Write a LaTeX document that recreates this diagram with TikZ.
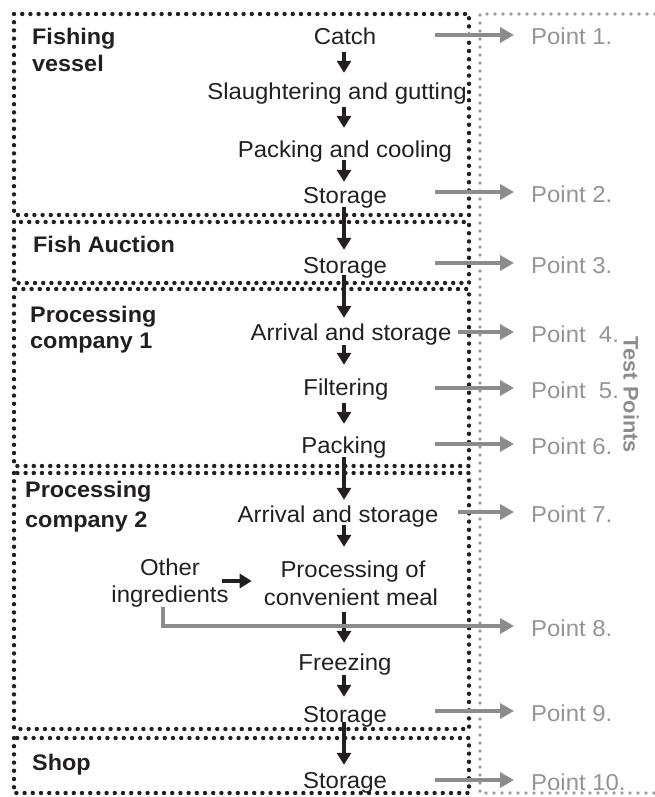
\documentclass[tikz,border=0pt]{standalone}
\usepackage{fontspec}
\setmainfont{Liberation Sans}[FakeStretch=1.04]
\usetikzlibrary{arrows.meta,calc}
\definecolor{ink}{HTML}{231F20}
\definecolor{gtext}{HTML}{949494}
\definecolor{garrow}{HTML}{8C8C8C}
\definecolor{gline}{HTML}{9C9C9C}
\newcommand\flowarrow[4]{\draw[darr,shorten <=#3pt,shorten >=#4pt] (#1.south -| sp) -- (#2.north -| sp);}
\begin{document}
\begin{tikzpicture}[x=1pt,y=-1pt,
  stp/.style={inner sep=0pt, text height=16pt, text depth=5pt, anchor=base,
    font=\fontsize{23}{27}\selectfont, text=ink},
  lbl/.style={inner sep=0pt, anchor=base west, text=ink,
    font=\bfseries\fontsize{22.5}{27}\selectfont},
  ptlbl/.style={inner sep=0pt, anchor=west, text height=20pt, text depth=0pt,
    text=gtext, font=\fontsize{23}{27}\selectfont},
  bx/.style={draw=ink, line width=4.4pt, line cap=round, dash pattern=on 0pt off 8.2pt},
  gdot/.style={draw=gline, line width=3.6pt, line cap=round, dash pattern=on 0pt off 8pt},
  darr/.style={draw=ink, line width=3.6pt, -{Triangle[length=12pt,width=14pt]}},
  garr/.style={draw=garrow, line width=4.5pt, line join=miter, -{Triangle[length=14pt,width=15pt]}}
]
\useasboundingbox (0,0) rectangle (655,797);

% boxes
\draw[bx] (14,14) rectangle (469,215);
\draw[bx] (14,222) rectangle (469,283);
\draw[bx] (14,289) rectangle (469,466);
\draw[bx] (14,473) rectangle (469,729);
\draw[bx] (14,738) rectangle (469,793);
\draw[gdot] (655,14) -- (480,14) -- (480,793) -- (655,793);

% group labels
\node[lbl] (fv1) at (32,45) {Fishing};
\node[lbl] (fv2) at (32,72) {vessel};
\node[lbl] (fa) at (33,252) {Fish Auction};
\node[lbl] (pc1a) at (30,322) {Processing};
\node[lbl] (pc1b) at (30,348) {company 1};
\node[lbl] (pc2a) at (25,497) {Processing};
\node[lbl] (pc2b) at (25,527) {company 2};
\node[lbl] (shop) at (32,770) {Shop};

% steps
\coordinate (sp) at (344,0);
\node[stp] (catch) at (345,45) {Catch};
\node[stp] (slaught) at (337,100) {Slaughtering and gutting};
\node[stp] (pack) at (345,157) {Packing and cooling};
\node[stp] (stor1) at (345,203) {Storage};
\node[stp] (stor2) at (345,273) {Storage};
\node[stp] (arr1) at (351,340) {Arrival and storage};
\node[stp] (filt) at (346,395) {Filtering};
\node[stp] (packg) at (344,453) {Packing};
\node[stp] (arr2) at (338,522) {Arrival and storage};
\node[stp] (procof) at (353,577) {Processing of};
\node[stp] (conv) at (351,605) {convenient meal};
\node[stp] (freez) at (345,670) {Freezing};
\node[stp] (stor3) at (345,722) {Storage};
\node[stp] (stor4) at (345,788) {Storage};
\node[stp] (other) at (170,575) {Other};
\node[stp] (ingr) at (170,602) {ingredients};

% flow arrows
\flowarrow{catch}{slaught}{2}{11}
\flowarrow{slaught}{pack}{2}{13}
\flowarrow{pack}{stor1}{-2}{5}
\flowarrow{stor1}{stor2}{-1}{7}
\flowarrow{stor2}{arr1}{-3}{6}
\flowarrow{arr1}{filt}{0}{14}
\flowarrow{filt}{packg}{3}{13}
\flowarrow{packg}{arr2}{-1}{6}
\flowarrow{arr2}{procof}{-2}{14}
\flowarrow{conv}{freez}{2}{11}
\flowarrow{freez}{stor3}{0}{9}
\flowarrow{stor3}{stor4}{-5}{7}
\coordinate (orow) at (0,581);
\draw[darr, shorten <=-7pt, shorten >=12pt] (ingr.east |- orow) -- (conv.west |- orow);

% test points
\coordinate (tapA) at (435,0);
\coordinate (tapB) at (458,0);
\node[ptlbl] (p1) at (531,35) {Point 1.};
\node[ptlbl] (p2) at (531,192) {Point 2.};
\node[ptlbl] (p3) at (531,263) {Point 3.};
\node[ptlbl] (p4) at (531,332) {Point\ \ 4.};
\node[ptlbl] (p5) at (531,388) {Point\ \ 5.};
\node[ptlbl] (p6) at (531,444) {Point 6.};
\node[ptlbl] (p7) at (531,512) {Point 7.};
\node[ptlbl] (p8) at (531,626) {Point 8.};
\node[ptlbl] (p9) at (531,711) {Point 9.};
\node[ptlbl] (p10) at (531,780) {Point 10.};
\draw[garr, shorten >=17pt] (tapA |- p1.west) -- (p1.west);
\draw[garr, shorten >=17pt] (tapA |- p2.west) -- (p2.west);
\draw[garr, shorten >=17pt] (tapA |- p3.west) -- (p3.west);
\draw[garr, shorten >=17pt] (tapB |- p4.west) -- (p4.west);
\draw[garr, shorten >=17pt] (tapA |- p5.west) -- (p5.west);
\draw[garr, shorten >=17pt] (tapA |- p6.west) -- (p6.west);
\draw[garr, shorten >=17pt] (tapB |- p7.west) -- (p7.west);
\coordinate (o8) at (163,607);
\draw[garr, shorten >=17pt] (o8) |- (p8.west);
\draw[garr, shorten >=17pt] (tapA |- p9.west) -- (p9.west);
\draw[garr, shorten >=17pt] (tapA |- p10.west) -- (p10.west);

\node[inner sep=0pt, rotate=-90, text=garrow, font=\bfseries\fontsize{21}{25}\selectfont] (tp) at (631,395) {Test Points};
\end{tikzpicture}
\end{document}
